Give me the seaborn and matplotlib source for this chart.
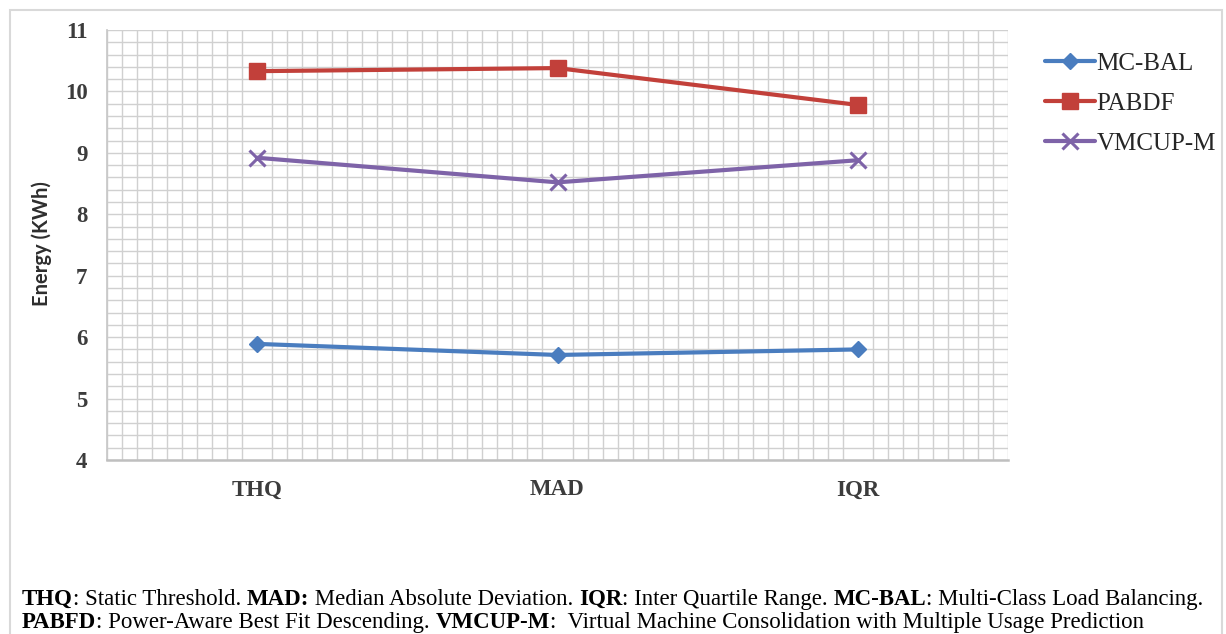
import numpy as np
import pandas as pd
import matplotlib
matplotlib.use("Agg")
import matplotlib.pyplot as plt
from matplotlib.text import Annotation
import seaborn as sns
from matplotlib.ticker import MultipleLocator, FixedLocator
from matplotlib.patches import Rectangle

# Energy consumption per overload-detection policy
policies = ["THQ", "MAD", "IQR"]
mc_bal = [5.89, 5.71, 5.80]
pabdf = [10.33, 10.38, 9.78]
vmcup_m = [8.92, 8.52, 8.88]
series_names = ["MC-BAL", "PABDF", "VMCUP-M"]
y_ticks = [4, 5, 6, 7, 8, 9, 10, 11]

colors = {"MC-BAL": "#4A7DBF", "PABDF": "#C2403A", "VMCUP-M": "#7E63A8"}
markers = {"MC-BAL": "D", "PABDF": "s", "VMCUP-M": "x"}
marker_sizes = {"MC-BAL": 8.5, "PABDF": 12, "VMCUP-M": 11}

df = pd.DataFrame({
    "policy": policies * 3,
    "energy": mc_bal + pabdf + vmcup_m,
    "method": [n for n in series_names for _ in policies],
})

sns.set_theme(style="white")
plt.rcParams["font.family"] = ["Liberation Serif", "DejaVu Serif"]

W, H = 1226, 634
fig = plt.figure(figsize=(W / 100, H / 100), dpi=100)
fig.patch.set_facecolor("white")

# outer frame around chart and caption
fig.patches.append(Rectangle((10 / W, -0.05), (1222 - 10) / W, 1 - 10 / H + 0.05,
                             transform=fig.transFigure, fill=False,
                             edgecolor="#D9D9D9", linewidth=1.5))

ax = fig.add_axes([107 / W, 1 - 460 / H, (1008 - 107) / W, (460 - 30) / H])

for name in series_names:
    sub = df[df["method"] == name]
    sns.lineplot(data=sub, x="policy", y="energy", color=colors[name],
                 marker=markers[name], markersize=marker_sizes[name],
                 markeredgecolor=colors[name], markerfacecolor=colors[name],
                 markeredgewidth=2.2 if name == "VMCUP-M" else 1.0,
                 sort=False, linewidth=3, ax=ax, zorder=3, label=name)

ax.set_xlim(-0.5, 2.5)
ax.set_ylim(4, 11)
ax.set_yticks(y_ticks)
ax.set_yticklabels([str(t) for t in y_ticks])
ax.set_xticks(range(len(policies)))
ax.set_xticklabels(policies)
ax.xaxis.set_minor_locator(FixedLocator(np.linspace(-0.5, 2.5, 61)))
ax.yaxis.set_minor_locator(MultipleLocator(0.2))

ax.grid(False)
ax.xaxis.grid(True, which="minor", color="#D0D0D0", linewidth=1.0)
ax.yaxis.grid(True, which="both", color="#D0D0D0", linewidth=1.0)
ax.set_axisbelow(True)

ax.tick_params(axis="both", which="both", length=0)
ax.tick_params(axis="y", pad=14, labelsize=16.5, labelcolor="#3C3C3C")
ax.tick_params(axis="x", pad=14, labelsize=16.5, labelcolor="#3C3C3C")
for lab in ax.get_yticklabels() + ax.get_xticklabels():
    lab.set_fontweight("bold")

for side in ["top", "right"]:
    ax.spines[side].set_visible(False)
ax.spines["left"].set_color("#C8C8C8")
ax.spines["bottom"].set_color("#BFBFBF")
ax.spines["bottom"].set_linewidth(1.8)

ax.set_xlabel("")
ax.set_ylabel("")
fig.text(42 / W, 1 - 244 / H, "Energy (KWh)", rotation=90, ha="center", va="center",
         fontsize=14.5, fontweight="bold", family=["Lato", "DejaVu Sans"], color="#2E2E2E")

# legend
handles, labels = ax.get_legend_handles_labels()
if ax.get_legend() is not None:
    ax.get_legend().remove()
fig.legend(handles, labels, loc="upper left",
           bbox_to_anchor=(1045 / W, 1 - 52 / H), frameon=False,
           handlelength=2.0, handletextpad=0.05,
           labelspacing=0.7, borderaxespad=0, borderpad=0,
           prop={"family": ["Liberation Serif"], "size": 18})

# caption with bold terms, drawn piece by piece along each baseline
caption_lines = [
    [("THQ", True), (": Static Threshold. ", False), ("MAD:", True),
     (" Median Absolute Deviation. ", False), ("IQR", True), (": Inter Quartile Range. ", False),
     ("MC-BAL", True), (": Multi-Class Load Balancing.", False)],
    [("PABFD", True), (": Power-Aware Best Fit Descending. ", False), ("VMCUP-M", True),
     (":  Virtual Machine Consolidation with Multiple Usage Prediction", False)],
]
baselines = [605, 628]
cap_size = 16.5
for segs, base in zip(caption_lines, baselines):
    prev = None
    for text, bold in segs:
        kw = dict(fontsize=cap_size, fontweight="bold" if bold else "normal",
                  family=["Liberation Serif"], color="black", va="baseline", ha="left")
        if prev is None:
            prev = fig.text(22 / W, 1 - base / H, text, **kw)
        else:
            prev = fig.add_artist(Annotation(
                text, xy=(1, 1 - base / H), xycoords=(prev, fig.transFigure),
                annotation_clip=False, **kw))

fig.savefig("out.png", dpi=100, facecolor="white")
